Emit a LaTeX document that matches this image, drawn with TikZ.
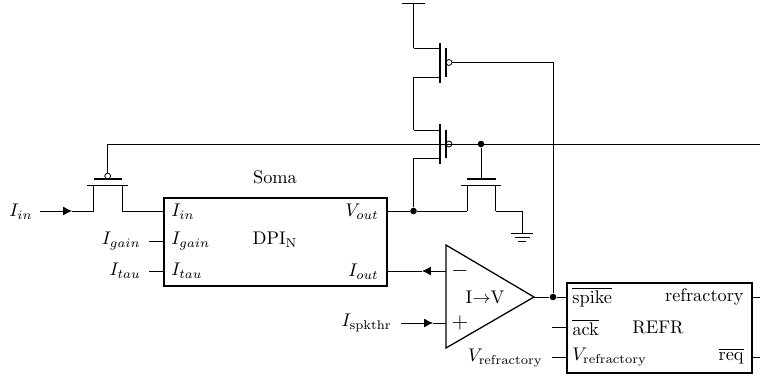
\documentclass[tikz,border=0pt]{standalone}
\usetikzlibrary{arrows.meta}

\tikzstyle{wire} = [line width=0.5pt]
\tikzstyle{bar} = [line width=0.8pt]
\tikzstyle{block} = [draw, rectangle, anchor=north west, line width=1pt,
                     inner sep=0mm]
\tikzstyle{bubble} = [draw, circle, line width=0.45pt, minimum size=3.2pt,
                      inner sep=0mm]
\tikzstyle{dot} = [fill, circle, minimum size=3.6pt, inner sep=0mm]
\tikzstyle{lbl} = [inner sep=0mm]

\begin{document}
\begin{tikzpicture}[x=0.546pt,y=-0.546pt,>={Latex[length=4.8pt,width=4.8pt]}]

\useasboundingbox (0,0) rectangle (760,376);

% blocks
\node[block,minimum width=121.8pt,minimum height=48.3pt]
     at (163,197)
     (DPI) {};
\node[block,minimum width=101pt,minimum height=49pt]
     at (566,282)
     (REFR) {};
\node[lbl] at (275,177) (soma) {Soma};
\node[lbl] at (275,240) (dpiname) {DPI$_{\mathrm{N}}$};
\node[lbl] at (658,327) (refrname) {REFR};

% labels inside DPI
\node[lbl,anchor=west] at (171,212) (capIin) {$I_{in}$};
\node[lbl,anchor=west] at (171,241) (capIgain) {$I_{gain}$};
\node[lbl,anchor=west] at (171,271) (capItau) {$I_{tau}$};
\node[lbl,anchor=east] at (379,212) (capVout) {$V_{out}$};
\node[lbl,anchor=east] at (379,272) (capIout) {$I_{out}$};

% labels inside REFR
\node[lbl,anchor=west] at (572,297) (capspike) {$\overline{\mathrm{spike}}$};
\node[lbl,anchor=west] at (572,327) (capack) {$\overline{\mathrm{ack}}$};
\node[lbl,anchor=west] at (572,357) (capVr) {$V_{\mathrm{refractory}}$};
\node[lbl,anchor=east] at (744,297) (caprefr) {refractory};
\node[lbl,anchor=east] at (744,356) (capreq) {$\overline{\mathrm{req}}$};

% outer labels
\node[lbl,anchor=east] at (33,212) (extIin) {$I_{in}$};
\node[lbl,anchor=east] at (141,241) (extIgain) {$I_{gain}$};
\node[lbl,anchor=east] at (141,271) (extItau) {$I_{tau}$};
\node[lbl,anchor=east] at (392,323) (extIspk) {$I_{\mathrm{spkthr}}$};
\node[lbl,anchor=east] at (543,358) (extVr) {$V_{\mathrm{refractory}}$};

% comparator
\coordinate (cmpA) at (446,245);
\coordinate (cmpB) at (446,348);
\coordinate (cmpT) at (534,297);
\draw[line width=0.7pt] (cmpA) -- (cmpB) -- (cmpT) -- cycle;
\node[lbl] at (460,271) (cmpM) {\large$-$};
\node[lbl] at (460,323) (cmpP) {\large$+$};
\node[lbl] at (485,297) (cmpName) {I$\rightarrow$V};

% left pmos
\coordinate (Q1s) at (93.5,211);
\coordinate (Q1d) at (122,211);
\draw[bar] (87,185.5) -- (128,185.5);
\draw[bar] (93.5,179) -- (122,179);
\draw[wire] (Q1s) -- (93.5,185.5);
\draw[wire] (Q1d) -- (122,185.5);
\node[bubble] at (107.7,176) (Q1b) {};

% top pmos
\coordinate (Q2s) at (413.5,48);
\coordinate (Q2d) at (413.5,77);
\draw[bar] (440,43) -- (440,83);
\draw[bar] (446,48) -- (446,77);
\draw[wire] (Q2s) -- (440,48);
\draw[wire] (Q2d) -- (440,77);
\node[bubble] at (449,62.5) (Q2b) {};

% lower pmos
\coordinate (Q3s) at (413.5,130);
\coordinate (Q3d) at (413.5,158);
\draw[bar] (440,124) -- (440,164);
\draw[bar] (446,130) -- (446,158);
\draw[wire] (Q3s) -- (440,130);
\draw[wire] (Q3d) -- (440,158);
\node[bubble] at (449,144) (Q3b) {};

% nmos
\coordinate (Q4s) at (467,211);
\coordinate (Q4d) at (495.5,211);
\coordinate (Q4g) at (481,179);
\draw[bar] (461,185.5) -- (501,185.5);
\draw[bar] (467,179) -- (495.5,179);
\draw[wire] (Q4s) -- (467,185.5);
\draw[wire] (Q4d) -- (495.5,185.5);

% supply and ground
\coordinate (vdd) at (413.5,3);
\draw[wire] (402,3) -- (425,3);
\draw[wire] (vdd) -- (Q2s);
\draw[wire] (Q2d) -- (Q3s);
\coordinate (gnd) at (522,233.5);
\draw[wire] (Q4d) -- (522,211) -- (gnd);
\draw[wire] (511,233.5) -- (533,233.5);
\draw[wire] (514.5,237.5) -- (529.5,237.5);
\draw[wire] (518,241) -- (526,241);

% wires
\coordinate (inL) at (40,211);
\coordinate (inM) at (72,211);
\draw[wire,->] (inL) -- (inM);
\draw[wire] (inM) -- (Q1s);
\draw[wire] (Q1d) -- (163,211);
\draw[wire] (149,241) -- (163,241);
\draw[wire] (149,271) -- (163,271);

\node[dot] at (413.5,211) (jVout) {};
\node[dot] at (481,144) (jFb) {};
\node[dot] at (553,297) (jSpk) {};

\draw[wire] (386,211) -- (jVout) -- (Q4s);
\draw[wire] (jVout) -- (Q3d);
\draw[wire] (jFb) -- (Q4g);

\coordinate (fbL) at (107.7,144);
\coordinate (fbR) at (760,144);
\draw[wire] (Q1b) -- (fbL) -- (fbR);

\draw[wire] (Q2b) -- (553,62.5) -- (jSpk);
\draw[wire] (cmpT) -- (jSpk) -- (566,297);

\coordinate (minusM) at (422,271);
\draw[wire,->] (446,271) -- (minusM);
\draw[wire] (minusM) -- (386,271);
\coordinate (plusM) at (433,323);
\draw[wire,->] (401,323) -- (plusM);
\draw[wire] (plusM) -- (446,323);

\draw[wire] (552,327) -- (566,327);
\draw[wire] (552,357) -- (566,357);
\draw[wire] (752,297) -- (760,297);
\draw[wire] (752,357) -- (760,357);

\end{tikzpicture}
\end{document}
